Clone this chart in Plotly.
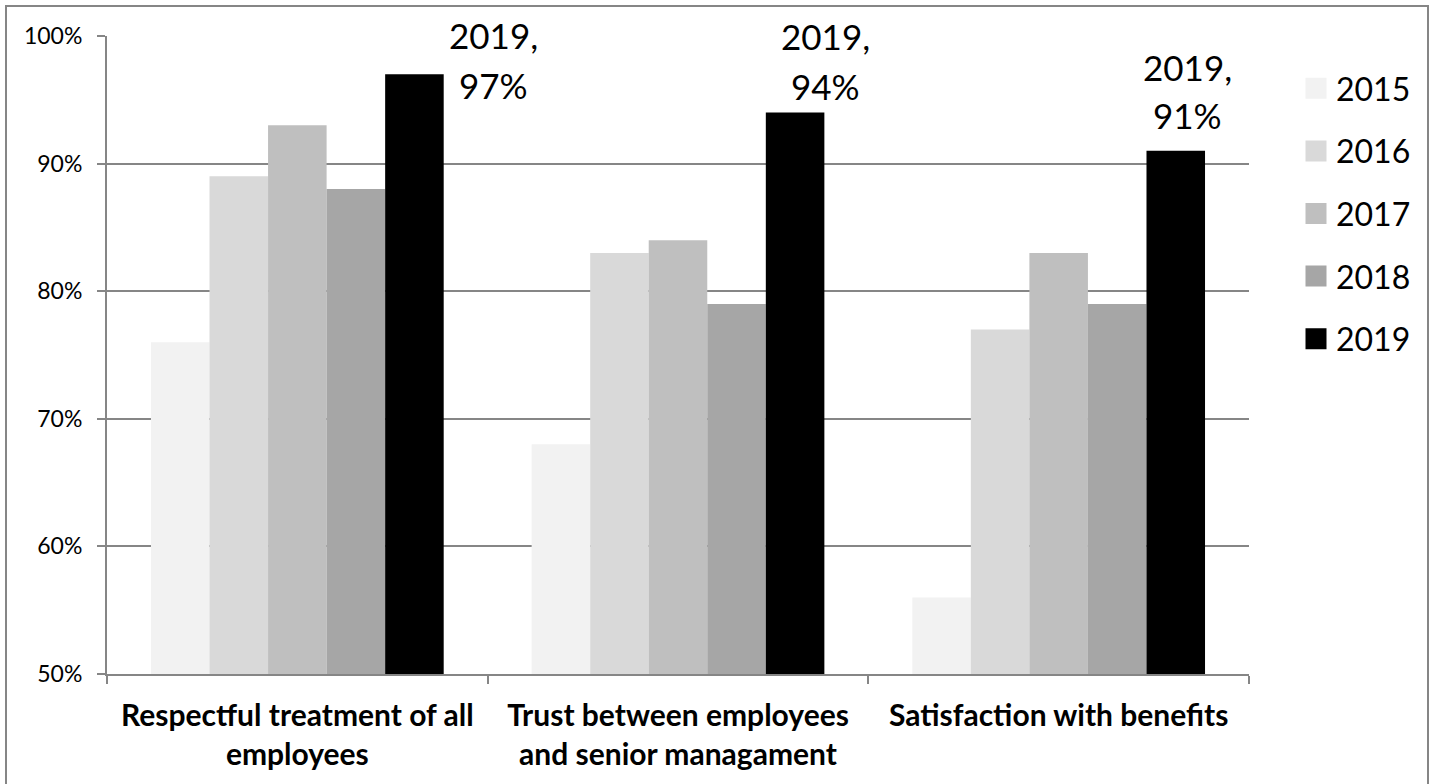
import plotly.graph_objects as go

# Survey categories (x axis) and the years compared
categories = [
    "Respectful treatment of all<br>employees",
    "Trust between employees<br>and senior managament",
    "Satisfaction with benefits",
]
years = ["2015", "2016", "2017", "2018", "2019"]

# Share of favourable responses (%) per year, one list per category order above
values_2015 = [76, 68, 56]
values_2016 = [89, 83, 77]
values_2017 = [93, 84, 83]
values_2018 = [88, 79, 79]
values_2019 = [97, 94, 91]

series = [values_2015, values_2016, values_2017, values_2018, values_2019]
colors = ["#f2f2f2", "#d9d9d9", "#bfbfbf", "#a6a6a6", "#000000"]

FONT = "Lato"
GRID = "#868686"
BARGAP = 0.231

fig = go.Figure()

for year, vals, col in zip(years, series, colors):
    fig.add_trace(go.Bar(
        x=categories, y=vals, name=year,
        marker=dict(color=col, line=dict(width=0)),
        showlegend=False,
    ))

# Legend entries with larger square swatches
for year, col in zip(years, colors):
    fig.add_trace(go.Scatter(
        x=[None], y=[None], mode="markers", name=year,
        legendgroup=year,
        marker=dict(symbol="square", size=16, color=col,
                    line=dict(color=col, width=5)),
        showlegend=True,
    ))

# Data labels for the latest year, offset beside/above each bar
bar_w = (1 - BARGAP) / len(years)
last_offset = (len(years) - 1) / 2 * bar_w
label_xshift = [79, 30, 12]
label_yshift_top = [39, 77, 84]
label_yshift_bottom = [-11, 27, 36]
for i, v in enumerate(values_2019):
    fig.add_annotation(
        x=i + last_offset, y=v, text=f"{years[-1]},", showarrow=False,
        xshift=label_xshift[i], yshift=label_yshift_top[i],
        xanchor="center", yanchor="middle",
        font=dict(family=FONT, size=35, color="#000000"),
    )
    fig.add_annotation(
        x=i + last_offset, y=v, text=f"{v}%", showarrow=False,
        xshift=label_xshift[i], yshift=label_yshift_bottom[i],
        xanchor="center", yanchor="middle",
        font=dict(family=FONT, size=35, color="#000000"),
    )

# Outer chart frame
fig.add_shape(
    type="rect", xref="paper", yref="paper",
    x0=(6 - 107) / 1142, x1=(1428 - 107) / 1142,
    y0=(674 - 800) / 638, y1=(674 - 6) / 638,
    line=dict(color=GRID, width=2), fillcolor="rgba(0,0,0,0)",
    layer="below",
)

fig.update_layout(
    width=1435, height=784,
    margin=dict(l=107, r=186, t=36, b=110),
    paper_bgcolor="white", plot_bgcolor="white",
    barmode="group", bargap=BARGAP, bargroupgap=0,
    font=dict(family=FONT, color="#000000"),
    showlegend=True,
    legend=dict(
        x=(1296 - 107) / 1142, xanchor="left",
        y=(674 - 61) / 638, yanchor="top",
        font=dict(family=FONT, size=32, color="#000000"),
        traceorder="grouped", tracegroupgap=18,
        bgcolor="rgba(0,0,0,0)",
    ),
    xaxis=dict(
        type="category",
        showline=True, linecolor=GRID, linewidth=2,
        ticks="outside", tickson="boundaries", ticklen=8,
        tickcolor=GRID, tickwidth=2,
        ticklabelstandoff=14,
        tickfont=dict(family=FONT, size=30, color="#000000", weight="bold"),
        showgrid=False,
    ),
    yaxis=dict(
        range=[50, 100], dtick=10, ticksuffix="%",
        showline=True, linecolor=GRID, linewidth=2,
        ticks="outside", ticklen=8, tickcolor=GRID, tickwidth=2,
        ticklabelstandoff=10,
        showgrid=True, gridcolor=GRID, gridwidth=2,
        tickfont=dict(family=FONT, size=23, color="#000000"),
        zeroline=False,
    ),
)

fig.write_html("out.html")
